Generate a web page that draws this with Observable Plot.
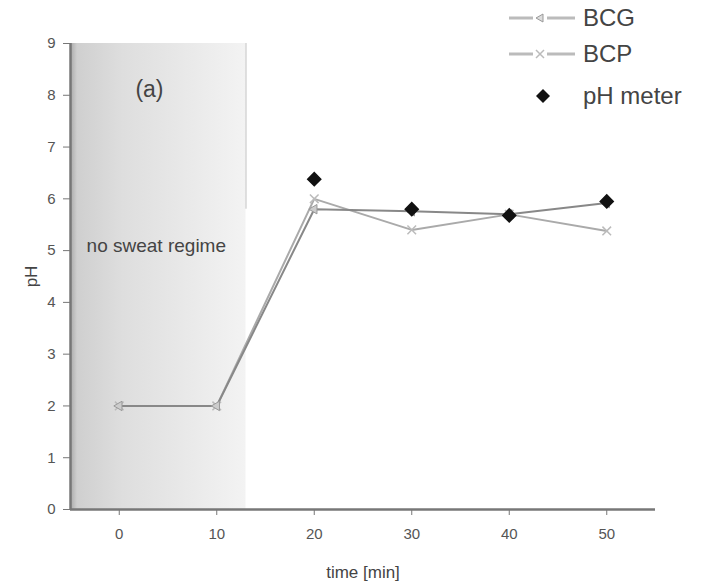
<!DOCTYPE html>
<html>
<head>
<meta charset="utf-8">
<script src="https://cdn.jsdelivr.net/npm/d3@7"></script>
<script src="https://cdn.jsdelivr.net/npm/@observablehq/plot@0.6"></script>
<style>
  html, body { margin: 0; padding: 0; background: #fff; }
  #wrap { position: relative; width: 704px; height: 581px; font-family: "Liberation Sans", Arial, sans-serif; }
  #legend { position: absolute; left: 505px; top: 0px; }
  .li { display: flex; align-items: center; height: 36px; font-size: 24px; color: #444; }
  .li svg { margin-right: 6px; }
</style>
</head>
<body>
<div id="wrap"></div>
<script>
const times = [0, 10, 20, 30, 40, 50];
const bcgValues = [2.0, 2.0, 5.8, 5.76, 5.7, 5.92];
const bcpValues = [2.0, 2.0, 6.0, 5.4, 5.7, 5.38];
const meterTimes = [20, 30, 40, 50];
const meterValues = [6.38, 5.8, 5.68, 5.95];
const xTicks = [0, 10, 20, 30, 40, 50];
const yTicks = [0, 1, 2, 3, 4, 5, 6, 7, 8, 9];
const xDomain = [-5, 55];
const yDomain = [0, 9];
const shadeRange = [-5, 13];
const annotations = [
  {x: 3.1, y: 8.1, text: "(a)", size: 23},
  {x: 3.8, y: 5.1, text: "no sweat regime", size: 19}
];

const bcg = times.map((t, i) => ({t, v: bcgValues[i]}));
const bcp = times.map((t, i) => ({t, v: bcpValues[i]}));
const meter = meterTimes.map((t, i) => ({t, v: meterValues[i]}));

const chart = Plot.plot({
  width: 704,
  height: 581,
  marginLeft: 70,
  marginRight: 49,
  marginTop: 43,
  marginBottom: 72,
  style: {fontFamily: "'Liberation Sans', Arial, sans-serif", fontSize: "14px", color: "#555", background: "#fff"},
  x: {domain: xDomain},
  y: {domain: yDomain},
  marks: [
    Plot.rect([{x1: shadeRange[0], x2: shadeRange[1], y1: yDomain[0], y2: yDomain[1]}],
      {x1: "x1", x2: "x2", y1: "y1", y2: "y2", fill: "url(#shadeGrad)", stroke: "none"}),
    Plot.ruleX([shadeRange[1]], {y1: 5.8, y2: yDomain[1], stroke: "#999", strokeWidth: 1, strokeOpacity: 0.6}),
    Plot.axisY({ticks: yTicks, tickSize: 7, tickPadding: 8, stroke: "#777", fill: "#555", fontSize: 15,
      label: "pH", labelAnchor: "center", labelArrow: "none", labelOffset: 46}),
    Plot.axisX({ticks: xTicks, tickSize: 6, tickPadding: 13, stroke: "#777", fill: "#555", fontSize: 15,
      label: "time [min]", labelAnchor: "center", labelArrow: "none", labelOffset: 68}),
    Plot.ruleY([yDomain[0]], {stroke: "#777", strokeWidth: 2.5}),
    Plot.ruleX([xDomain[0]], {stroke: "#777", strokeWidth: 2.5}),
    Plot.text(annotations, {x: "x", y: "y", text: "text", fontSize: d => d.size, fill: "#444"}),
    Plot.line(bcp, {x: "t", y: "v", stroke: "#aaa", strokeWidth: 2}),
    Plot.line(bcg, {x: "t", y: "v", stroke: "#888", strokeWidth: 2}),
    Plot.dot(bcp, {x: "t", y: "v", symbol: "times", r: 4, stroke: "#bbb", strokeWidth: 1.5}),
    Plot.dot(bcg, {x: "t", y: "v", symbol: "triangle", rotate: -90, r: 3.5, fill: "#ccc", stroke: "#999", strokeWidth: 1}),
    Plot.dot(meter, {x: "t", y: "v", symbol: "square", rotate: 45, r: 5.2, fill: "#111", stroke: "#111"})
  ]
});

const svgNS = "http://www.w3.org/2000/svg";
const defs = document.createElementNS(svgNS, "defs");
defs.innerHTML = `<linearGradient id="shadeGrad" x1="0" x2="1" y1="0" y2="0">
  <stop offset="0" stop-color="#a8a8a8"/>
  <stop offset="0.04" stop-color="#cfcfcf"/>
  <stop offset="0.3" stop-color="#dedede"/>
  <stop offset="1" stop-color="#f3f3f3"/>
</linearGradient>`;
chart.insertBefore(defs, chart.firstChild);
chart.querySelectorAll("[aria-label='y-axis label'] text, [aria-label='x-axis label'] text").forEach(t => {
  t.style.fontSize = "17px";
  t.style.fill = "#444";
});

const wrap = document.getElementById("wrap");
wrap.appendChild(chart);

const legendItems = [
  {label: "BCG", kind: "bcg"},
  {label: "BCP", kind: "bcp"},
  {label: "pH meter", kind: "meter"}
];
const legend = document.createElement("div");
legend.id = "legend";
legendItems.forEach((it, i) => {
  const row = document.createElement("div");
  row.className = "li";
  if (i === 2) row.style.height = "48px";
  let icon = "";
  if (it.kind === "bcg") {
    icon = `<svg width="72" height="20"><line x1="4" x2="70" y1="10" y2="10" stroke="#bbb" stroke-width="3"/>
      <rect x="28" y="3" width="14" height="14" fill="#fff"/>
      <path d="M31,10 L38,6 L38,14 Z" fill="#ddd" stroke="#999" stroke-width="1"/></svg>`;
  } else if (it.kind === "bcp") {
    icon = `<svg width="72" height="20"><line x1="4" x2="70" y1="10" y2="10" stroke="#bbb" stroke-width="3"/>
      <rect x="28" y="3" width="14" height="14" fill="#fff"/>
      <path d="M31,6 L39,14 M39,6 L31,14" stroke="#bbb" stroke-width="1.5"/></svg>`;
  } else {
    icon = `<svg width="72" height="20"><path d="M38,3 L45,10 L38,17 L31,10 Z" fill="#111"/></svg>`;
  }
  row.innerHTML = icon + `<span>${it.label}</span>`;
  legend.appendChild(row);
});
wrap.appendChild(legend);
</script>
</body>
</html>
